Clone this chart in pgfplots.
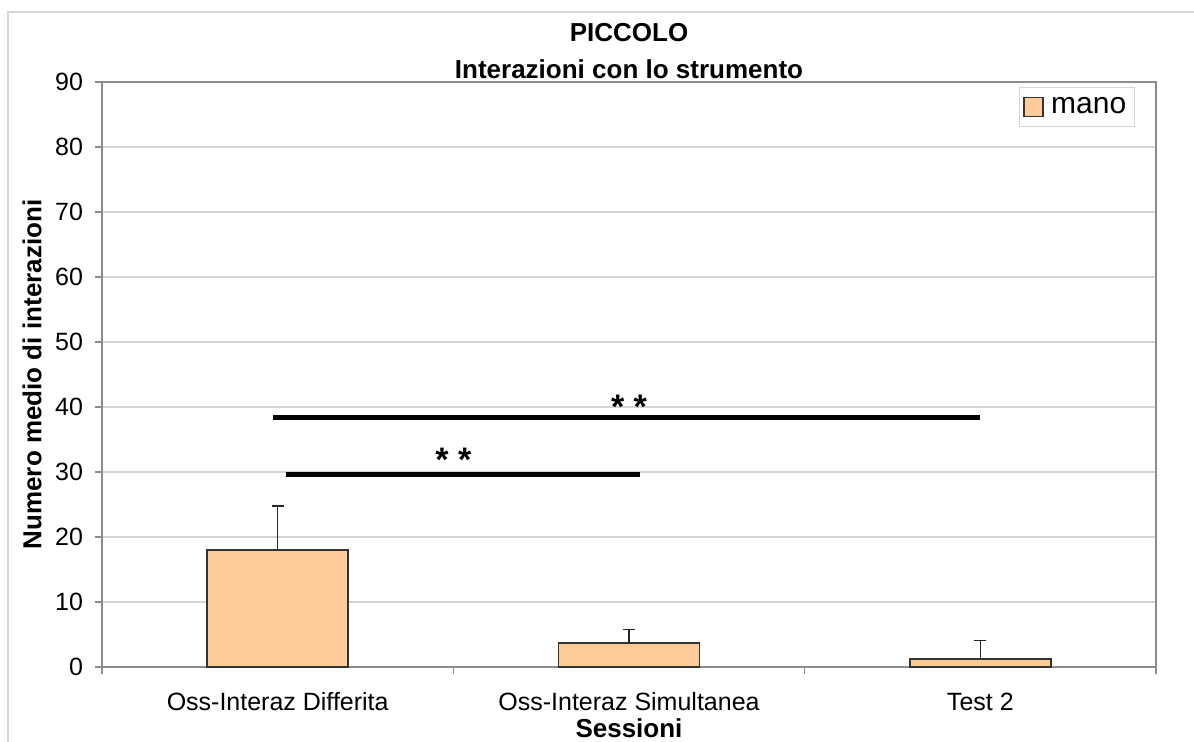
\documentclass[border=0pt]{standalone}
\usepackage{fontspec}
\setmainfont{Liberation Sans}
\usepackage{pgfplots}
\pgfplotsset{compat=1.18}
\definecolor{barfill}{RGB}{255,204,153}
\definecolor{gridc}{RGB}{212,212,212}
\definecolor{axc}{RGB}{140,140,140}
\definecolor{borderc}{RGB}{215,215,215}
\begin{document}
\begin{tikzpicture}
\begin{axis}[
  scale only axis, width=527pt, height=292.5pt,
  clip=false,
  xmin=-0.5, xmax=2.5, ymin=0, ymax=90,
  ytick={0,10,...,90},
  xtick={0,1,2},
  xticklabels={Oss-Interaz Differita, Oss-Interaz Simultanea, Test 2},
  minor xtick={-0.5,0.5,1.5,2.5},
  major x tick style={draw=none},
  tick align=outside,
  xtick pos=bottom, ytick pos=left,
  major tick length=3.5pt, minor tick length=3.5pt,
  every tick/.style={axc, line width=0.7pt},
  ymajorgrids, grid style={gridc, line width=0.7pt},
  axis line style={axc, line width=0.8pt},
  /pgf/number format/assume math mode=true,
  ticklabel style={font=\fontsize{12.5}{14}\selectfont},
  yticklabel style={xshift=-2.5pt},
  xticklabel style={anchor=base, yshift=-18.5pt},
  xlabel={Sessioni},
  ylabel={Numero medio di interazioni},
  label style={font=\bfseries\fontsize{13}{15}\selectfont},
  xlabel style={at={(axis description cs:0.5,-0.104)}, anchor=center},
  ylabel style={at={(axis description cs:-0.0664,0.5)}, anchor=center},
  legend style={at={(0.98,0.992)}, anchor=north east, draw=gridc, line width=0.7pt,
    font=\fontsize{15}{17}\selectfont, inner xsep=2pt, inner ysep=3pt},
  legend image code/.code={\draw[#1] (0pt,-4.75pt) rectangle (9.5pt,4.75pt);
    \path[draw=none, fill=none] (0pt,0pt) -- (11.5pt,0pt);},
]
\addplot[ybar, bar width=70.5pt, fill=barfill, draw=black!80, line width=0.8pt,
  error bars/.cd, y dir=plus, y explicit,
  error bar style={black!85, line width=0.8pt},
  error mark options={rotate=90, mark size=3pt, black!85, line width=0.8pt}]
  coordinates {(0,18.0) +- (0,6.8) (1,3.65) +- (0,2.1) (2,1.25) +- (0,2.8)};
\addlegendentry{mano}
\addplot[black, line width=2.7pt, forget plot] coordinates {(-0.012,38.35) (2.0,38.35)};
\addplot[black, line width=2.7pt, forget plot] coordinates {(0.025,29.6) (1.03,29.6)};
\node[font=\bfseries\fontsize{17}{17}\selectfont, anchor=base] at (axis cs:1.0,38.3) {* *};
\node[font=\bfseries\fontsize{17}{17}\selectfont, anchor=base] at (axis cs:0.5,30.0) {* *};
\node[font=\bfseries\fontsize{13}{15}\selectfont, anchor=base] at (axis description cs:0.5,1.069) {PICCOLO};
\node[font=\bfseries\fontsize{13}{15}\selectfont, anchor=base] at (axis description cs:0.5,1.0068) {Interazioni con lo strumento};
\end{axis}
\draw[borderc, line width=0.8pt] (-47pt,-45pt) -- (-47pt,327.5pt) -- (560pt,327.5pt);
\pgfresetboundingbox
\useasboundingbox (-51pt,-37.5pt) rectangle (546pt,333.5pt);
\end{tikzpicture}
\end{document}
